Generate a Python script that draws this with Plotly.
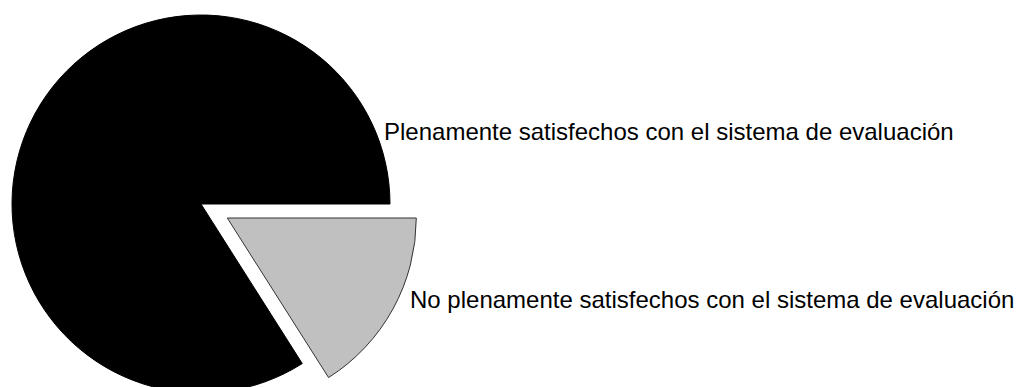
import plotly.graph_objects as go

# datos del grafico
categorias = ["Plenamente satisfechos con el sistema de evaluación",
              "No plenamente satisfechos con el sistema de evaluación"]
valores = [84, 16]
colores = ["#000000", "#C0C0C0"]

ancho = 1017
alto = 436

# centro y radio de la torta (pixeles)
cx, cy, r = 201, 204, 189
# desplazamiento de la porcion separada
dx, dy = 26.3, 14

# la porcion gris empieza a las 3 en punto y baja
giro = 90 + 360 * valores[1] / sum(valores)

fig = go.Figure()

# porcion negra
fig.add_trace(go.Pie(
    labels=categorias,
    values=valores,
    sort=False,
    rotation=giro,
    direction="clockwise",
    marker=dict(colors=[colores[0], "rgba(0,0,0,0)"],
                line=dict(color=["#000000", "rgba(0,0,0,0)"], width=[1, 0])),
    textinfo="none",
    hoverinfo="none",
    domain=dict(x=[(cx - r) / ancho, (cx + r) / ancho],
                y=[1 - 2 * cy / alto, 1]),
))

# porcion gris separada
fig.add_trace(go.Pie(
    labels=categorias,
    values=valores,
    sort=False,
    rotation=giro,
    direction="clockwise",
    marker=dict(colors=["rgba(0,0,0,0)", colores[1]],
                line=dict(color=["rgba(0,0,0,0)", "#333333"], width=[0, 1])),
    textinfo="none",
    hoverinfo="none",
    domain=dict(x=[(cx + dx - r) / ancho, (cx + dx + r) / ancho],
                y=[1 - 2 * (cy + dy) / alto, 1]),
))

# etiquetas
posiciones = [(382, 131), (408, 299)]
for texto, (px_, py_) in zip(categorias, posiciones):
    fig.add_annotation(
        text=texto, x=px_ / ancho, y=1 - py_ / alto,
        xref="paper", yref="paper", xanchor="left", yanchor="middle",
        showarrow=False,
        font=dict(family="Liberation Sans, Arial", size=24, color="#000000"),
    )

fig.update_layout(
    width=ancho, height=alto,
    margin=dict(l=0, r=0, t=0, b=0),
    showlegend=False,
    paper_bgcolor="white",
    plot_bgcolor="white",
)

fig.write_html("out.html", config={"displayModeBar": False}, post_script=(
    "document.body.style.margin='0';"
    "document.body.style.overflow='hidden';"
    "document.documentElement.style.overflow='hidden';"
))
